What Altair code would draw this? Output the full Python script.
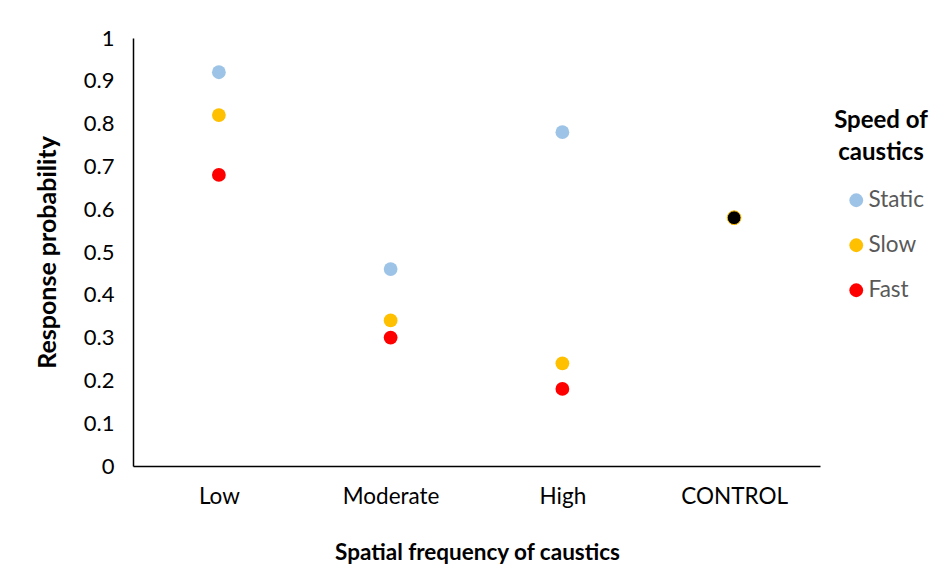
import altair as alt
import pandas as pd

categories = ["Low", "Moderate", "High", "CONTROL"]
speeds = ["Static", "Slow", "Fast"]
static_vals = [0.92, 0.46, 0.78]
slow_vals = [0.82, 0.34, 0.24]
fast_vals = [0.68, 0.30, 0.18]
control_val = [0.58]
speed_colors = ["#9DC3E6", "#FFC000", "#FF0000"]
y_ticks = [0, 0.1, 0.2, 0.3, 0.4, 0.5, 0.6, 0.7, 0.8, 0.9, 1.0]

rows = []
for cat, s, sl, f in zip(categories[:3], static_vals, slow_vals, fast_vals):
    rows.append({"freq": cat, "speed": "Static", "p": s})
    rows.append({"freq": cat, "speed": "Slow", "p": sl})
    rows.append({"freq": cat, "speed": "Fast", "p": f})
df = pd.DataFrame(rows)
df_ctrl = pd.DataFrame({"freq": ["CONTROL"], "p": control_val})

FONT = "Lato"

x_enc = alt.X(
    "freq:N",
    scale=alt.Scale(domain=categories, type="point", padding=0.5),
    axis=alt.Axis(
        title="Spatial frequency of caustics",
        labelAngle=0,
        ticks=False,
        grid=False,
        domainColor="#000000",
        domainWidth=1.5,
        labelPadding=19,
        labelFontSize=22.5,
        labelColor="#000000",
        labelFont=FONT,
        titleFont=FONT,
        titleFontSize=22.5,
        titleFontWeight="bold",
        titleColor="#000000",
        titleX=344,
        titleY=86,
        titleBaseline="middle",
        titleAlign="center",
    ),
)
y_enc = alt.Y(
    "p:Q",
    scale=alt.Scale(domain=[0, 1], nice=False),
    axis=alt.Axis(
        title="Response probability",
        values=y_ticks,
        format="~g",
        ticks=False,
        grid=False,
        domainColor="#000000",
        domainWidth=1.5,
        labelPadding=19,
        labelFontSize=22,
        labelColor="#000000",
        labelFont=FONT,
        titleFont=FONT,
        titleFontSize=25,
        titleFontWeight="bold",
        titleColor="#000000",
        titleAngle=270,
        titleX=-86,
        titleY=214,
        titleBaseline="middle",
        titleAlign="center",
    ),
)

points = alt.Chart(df).mark_circle(size=190, opacity=1).encode(
    x=x_enc,
    y=y_enc,
    color=alt.Color(
        "speed:N",
        scale=alt.Scale(domain=speeds, range=speed_colors),
        legend=alt.Legend(
            title=["Speed of", "caustics"],
            orient="none",
            legendX=701,
            legendY=71,
            titleFont=FONT,
            titleFontSize=24,
            titleFontWeight="bold",
            titleColor="#000000",
            titleAnchor="middle",
            titleAlign="center",
            titleLineHeight=32,
            titlePadding=24,
            labelFont=FONT,
            labelFontSize=22.5,
            labelColor="#595959",
            labelOffset=1,
            symbolType="circle",
            symbolSize=190,
            symbolStrokeWidth=0,
            symbolOffset=7,
            rowPadding=22,
        ),
    ),
)

ctrl = alt.Chart(df_ctrl).mark_circle(
    size=190, opacity=1, color="#000000", stroke="#FFC000", strokeWidth=1
).encode(x=x_enc, y=y_enc)

chart = (
    alt.layer(points, ctrl)
    .properties(
        width=687,
        height=428,
        padding={"left": 125, "top": 30, "right": 123, "bottom": 104},
        autosize=alt.AutoSizeParams(type="none"),
        view=alt.ViewBackground(strokeOpacity=0, strokeWidth=0),
    )
    .configure_view(strokeWidth=0, strokeOpacity=0)
    .configure(background="#FFFFFF")
)

chart.save("out.html", embed_options={"renderer": "svg", "actions": False})
